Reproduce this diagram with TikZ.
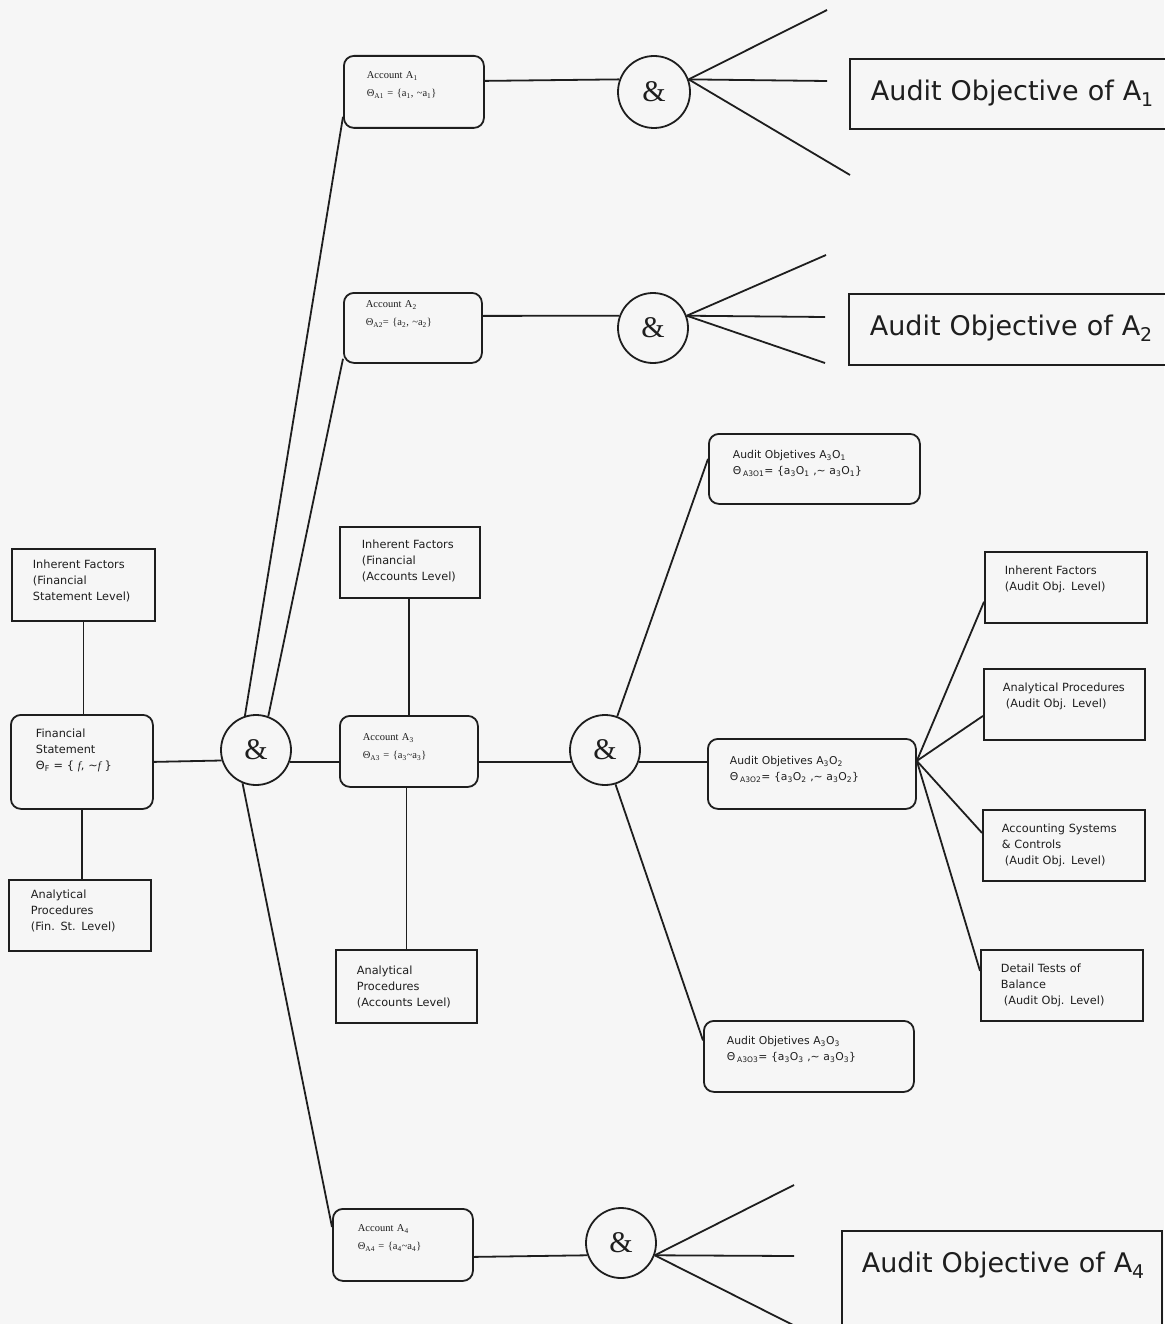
\documentclass[tikz,border=0pt]{standalone}
\usepackage{fontspec}
\setmainfont{DejaVu Sans}
\newfontfamily\fserif{Liberation Serif}
\definecolor{ink}{HTML}{1E1E1E}
\definecolor{bg}{HTML}{F6F6F6}
\newcommand\fsmall{\fontsize{11.3}{16}\selectfont}
\newcommand\fsmallb{\fontsize{10.8}{16}\selectfont}
\newcommand\facct{\fserif\fontsize{10.5}{18}\selectfont}
\newcommand\fbig{\fontsize{27}{30}\selectfont}
\begin{document}
\begin{tikzpicture}[x=1pt,y=-1pt,
  ln/.style={draw=ink, line width=1.8pt},
  geo/.style n args={6}{anchor=north west, minimum width={#3-#1}, text width={#3-#1-2*#6},
     inner xsep={#6}, inner ysep=0pt, text height={#5-#2}, text depth={#4-#5}},
  sq/.style={draw=ink, line width=1.8pt, align=left, text=ink, font=\fsmall},
  rd/.style={sq, rounded corners=10pt},
  acct/.style={rd, font=\facct},
  aobj/.style={rd, font=\fsmallb},
  big/.style={sq, font=\fbig},
  andn/.style={circle, draw=ink, line width=1.8pt, minimum size=#1, inner sep=0pt, text=ink,
     font=\fserif\fontsize{30}{30}\selectfont},
  andn/.default=70pt
]
\useasboundingbox (0,0) rectangle (1164,1324);
\fill[bg] (0,0) rectangle (1164,1324);

% left column
\node[sq, geo={11}{548}{154}{620}{568}{21}] (ifFS) at (11,548)
  {Inherent Factors\\(Financial\\Statement Level)};
\node[rd, geo={10}{714}{152}{808}{737}{25}] (fs) at (10,714)
  {Financial\\Statement\\Θ\textsubscript{F} = \{ {\fserif\itshape f}, \textasciitilde{\fserif\itshape f} \}};
\node[sq, geo={8}{879}{150}{950}{898}{22}] (apFS) at (8,879)
  {Analytical\\Procedures\\(Fin. St. Level)};

\node[andn] (and1) at (256,750) {\&};

% accounts column
\node[acct, geo={343}{55}{483}{127}{78}{23}] (a1) at (343,55)
  {Account A\textsubscript{1}\\Θ\textsubscript{A1} = \{a\textsubscript{1}, \textasciitilde a\textsubscript{1}\}};
\node[acct, geo={343}{292}{481}{362}{307}{22}] (a2) at (343,292)
  {Account A\textsubscript{2}\\Θ\textsubscript{A2}= \{a\textsubscript{2}, \textasciitilde a\textsubscript{2}\}};
\node[sq, geo={339}{526}{479}{597}{548}{22}] (ifAcc) at (339,526)
  {Inherent Factors\\(Financial\\(Accounts Level)};
\node[acct, geo={339}{715}{477}{786}{740}{23}] (a3) at (339,715)
  {Account A\textsubscript{3}\\Θ\textsubscript{A3} = \{a\textsubscript{3}\textasciitilde a\textsubscript{3}\}};
\node[sq, geo={335}{949}{476}{1022}{974}{21}] (apAcc) at (335,949)
  {Analytical\\Procedures\\(Accounts Level)};
\node[acct, geo={332}{1208}{472}{1280}{1231}{25}] (a4) at (332,1208)
  {Account A\textsubscript{4}\\Θ\textsubscript{A4} = \{a\textsubscript{4}\textasciitilde a\textsubscript{4}\}};

% circles of the accounts
\node[andn=72pt] (c1) at (654,92) {\&};
\node[andn] (c2) at (653,328) {\&};
\node[andn] (and2) at (605,750) {\&};
\node[andn] (c4) at (621,1243) {\&};

% audit objectives of A3
\node[aobj, geo={708}{433}{919}{503}{458}{24}] (ao1) at (708,433)
  {Audit Objetives A\textsubscript{3}O\textsubscript{1}\\Θ\,\textsubscript{A3O1}= \{a\textsubscript{3}O\textsubscript{1} ,\textasciitilde{} a\textsubscript{3}O\textsubscript{1}\}};
\node[aobj, geo={707}{738}{915}{808}{764}{22}] (ao2) at (707,738)
  {Audit Objetives A\textsubscript{3}O\textsubscript{2}\\Θ\,\textsubscript{A3O2}= \{a\textsubscript{3}O\textsubscript{2} ,\textasciitilde{} a\textsubscript{3}O\textsubscript{2}\}};
\node[aobj, geo={703}{1020}{913}{1091}{1044}{23}] (ao3) at (703,1020)
  {Audit Objetives A\textsubscript{3}O\textsubscript{3}\\Θ\,\textsubscript{A3O3}= \{a\textsubscript{3}O\textsubscript{3} ,\textasciitilde{} a\textsubscript{3}O\textsubscript{3}\}};

% evidence boxes at audit objective level
\node[sq, geo={984}{551}{1146}{622}{574}{20}] (ifAO) at (984,551)
  {Inherent Factors\\(Audit Obj. Level)};
\node[sq, geo={983}{668}{1144}{739}{691}{19}] (apAO) at (983,668)
  {Analytical Procedures\\\hspace*{3pt}(Audit Obj. Level)};
\node[sq, geo={982}{809}{1144}{880}{832}{19}] (acsAO) at (982,809)
  {Accounting Systems\\\& Controls\\\hspace*{3pt}(Audit Obj. Level)};
\node[sq, geo={980}{949}{1142}{1020}{972}{20}] (dtbAO) at (980,949)
  {Detail Tests of\\Balance\\\hspace*{3pt}(Audit Obj. Level)};

% audit objective boxes
\node[big, geo={849}{58}{1180}{128}{100}{21}] (obj1) at (849,58)
  {\mbox{Audit Objective of A\textsubscript{1}}};
\node[big, geo={848}{293}{1180}{364}{335}{21}] (obj2) at (848,293)
  {\mbox{Audit Objective of A\textsubscript{2}}};
\node[big, geo={841}{1230}{1161}{1340}{1272}{20}] (obj4) at (841,1230)
  {\mbox{Audit Objective of A\textsubscript{4}}};

% free ends of the fans
\coordinate (f1a) at (827,10);
\coordinate (f1b) at (827,81);
\coordinate (f1c) at (850,175);
\coordinate (f2a) at (826,255);
\coordinate (f2b) at (825,317);
\coordinate (f2c) at (825,363);
\coordinate (f4a) at (794,1185);
\coordinate (f4b) at (794,1256);
\coordinate (f4c) at (795,1326);

% connectors
\draw[ln] (ifFS.south) -- (ifFS.south |- fs.north);
\draw[ln] (fs.south) -- (fs.south |- apFS.north);
\draw[ln] (fs.east) -- (and1.197);
\draw[ln] (and1.-20) -- (and1.-20 -| a3.west);
\draw[ln] (and1.108) -- ([yshift=12pt]a1.south west);
\draw[ln] (and1.70) -- ([yshift=5pt]a2.south west);
\draw[ln] (and1.248) -- ([yshift=-19pt]a4.north west);

\draw[ln] (a3.north) -- (a3.north |- ifAcc.south);
\draw[ln] (apAcc.north |- a3.south) -- (apAcc.north);
\draw[ln] (and2.200 -| a3.east) -- (and2.200);
\draw[ln] (and2.-20) -- (and2.-20 -| ao2.west);
\draw[ln] (and2.70) -- ([yshift=10pt]ao1.west);
\draw[ln] (and2.-73) -- ([yshift=16pt]ao3.west);

\draw[ln] ([yshift=13pt]ao2.east) -- ([yshift=22pt]ifAO.south west);
\draw[ln] ([yshift=13pt]ao2.east) -- ([yshift=-11.5pt]apAO.west);
\draw[ln] ([yshift=13pt]ao2.east) -- ([yshift=12.5pt]acsAO.west);
\draw[ln] ([yshift=13pt]ao2.east) -- ([yshift=14.5pt]dtbAO.west);

\draw[ln] ([yshift=11pt]a1.east) -- (c1.160);
\draw[ln] (c1.20) -- (f1a);
\draw[ln] (c1.20) -- (f1b);
\draw[ln] (c1.20) -- (f1c);

\draw[ln] ([yshift=12pt]a2.east) -- (c2.160);
\draw[ln] (c2.20) -- (f2a);
\draw[ln] (c2.20) -- (f2b);
\draw[ln] (c2.20) -- (f2c);

\draw[ln] ([yshift=-12pt]a4.east) -- (c4.200);
\draw[ln] (c4.-20) -- (f4a);
\draw[ln] (c4.-20) -- (f4b);
\draw[ln] (c4.-20) -- (f4c);
\end{tikzpicture}
\end{document}
